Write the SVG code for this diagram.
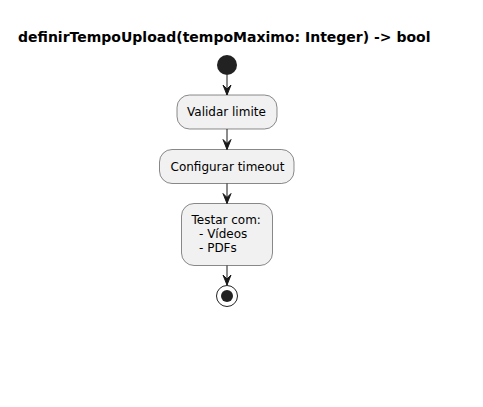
<svg xmlns="http://www.w3.org/2000/svg" width="483" height="407" viewBox="0 0 483 407">
<style>
.box{fill:#F1F1F1;stroke:#181818;stroke-width:0.5}
.t{font-family:"DejaVu Sans",sans-serif;font-size:12px;fill:#000}
.title{font-family:"DejaVu Sans",sans-serif;font-size:14px;font-weight:bold;fill:#000}
.ln{stroke:#181818;stroke-width:1;fill:none}
.ah{fill:#181818;stroke:#181818;stroke-width:1}
</style>
<rect width="483" height="407" fill="#FFFFFF"/>
<text class="title" x="18" y="42">definirTempoUpload(tempoMaximo: Integer) -&gt; bool</text>
<g id="start"><circle cx="227" cy="65" r="10" fill="#222222"/></g>
<g id="validar"><rect class="box" x="177" y="95" width="100" height="34" rx="12.5"/><text class="t" x="187" y="116">Validar limite</text></g>
<g id="configurar"><rect class="box" x="159.5" y="149.5" width="134.5" height="34" rx="12.5"/><text class="t" x="170.5" y="170.5">Configurar timeout</text></g>
<g id="testar"><rect class="box" x="181.5" y="203.5" width="91" height="62" rx="12.5"/><text class="t" x="191.5" y="223.5">Testar com:</text><text class="t" x="199" y="237.5">- Vídeos</text><text class="t" x="199" y="251.5">- PDFs</text></g>
<g id="end"><circle cx="227" cy="296" r="10.5" fill="none" stroke="#222222" stroke-width="1"/><circle cx="227" cy="296" r="6" fill="#222222"/></g>
<g id="connectors">
<line class="ln" x1="227" y1="75" x2="227" y2="95"/><polygon class="ah" points="223,85 227,95 231,85 227,89"/>
<line class="ln" x1="227" y1="129" x2="227" y2="149.5"/><polygon class="ah" points="223,139.5 227,149.5 231,139.5 227,143.5"/>
<line class="ln" x1="227" y1="183.5" x2="227" y2="203.5"/><polygon class="ah" points="223,193.5 227,203.5 231,193.5 227,197.5"/>
<line class="ln" x1="227" y1="265.5" x2="227" y2="285"/><polygon class="ah" points="223,275 227,285 231,275 227,279"/>
</g>
</svg>
